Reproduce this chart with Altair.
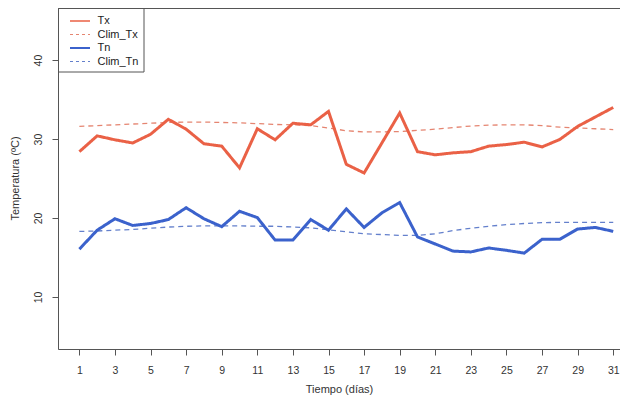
import altair as alt
import pandas as pd

days = list(range(1, 32))
tx = [28.4, 30.4, 29.9, 29.5, 30.6, 32.5, 31.25, 29.4, 29.1, 26.35, 31.3, 29.9, 32.0, 31.8, 33.5, 26.8,
      25.7, 29.5, 33.3, 28.4, 28.0, 28.25, 28.4, 29.1, 29.3, 29.6, 29.0, 29.95, 31.6, 32.8, 34.0]
clim_tx = [31.6, 31.7, 31.8, 31.9, 32.0, 32.1, 32.15, 32.15, 32.1, 32.05, 31.95, 31.85, 31.8, 31.7, 31.4, 31.05,
           30.9, 30.9, 30.95, 31.1, 31.25, 31.45, 31.65, 31.75, 31.8, 31.8, 31.7, 31.5, 31.4, 31.3, 31.2]
tn = [16.05, 18.45, 19.9, 19.05, 19.3, 19.8, 21.3, 19.9, 18.9, 20.85, 20.05, 17.2, 17.2, 19.8, 18.45, 21.15,
      18.8, 20.65, 21.95, 17.6, 16.7, 15.8, 15.7, 16.2, 15.9, 15.55, 17.3, 17.3, 18.6, 18.8, 18.3]
clim_tn = [18.3, 18.35, 18.45, 18.55, 18.7, 18.85, 18.95, 19.0, 19.0, 19.0, 18.95, 18.95, 18.85, 18.75, 18.5, 18.25,
           18.0, 17.9, 17.8, 17.8, 18.0, 18.4, 18.7, 18.95, 19.15, 19.3, 19.4, 19.45, 19.45, 19.45, 19.45]

series = ["Tx", "Clim_Tx", "Tn", "Clim_Tn"]
colors = ["#EA6146", "#E58571", "#3B62CC", "#6480CC"]
dashes = [[1, 0], [5, 4], [1, 0], [5, 4]]
widths = [3, 1.3, 3, 1.3]
legend_widths = [1.6, 1.2, 2.2, 1.2]
x_ticks = list(range(1, 32, 2))
y_ticks = [10, 20, 30, 40]

FONT = "Liberation Sans"
W, H = 562, 341

values = tx + clim_tx + tn + clim_tn
df = pd.DataFrame({
    "day": days * 4,
    "value": values,
    "series": [s for s in series for _ in days],
})

x_enc = alt.X("day:Q",
              scale=alt.Scale(domain=[-0.2, 31.38], nice=False, zero=False),
              axis=alt.Axis(values=x_ticks, title="Tiempo (días)", grid=False,
                            domainColor="#555", tickColor="#555", tickSize=6, tickWidth=1,
                            labelFont=FONT, labelFontSize=10.5, labelColor="#333",
                            labelPadding=10, labelFlush=False,
                            titleFont=FONT, titleFontSize=11, titleFontWeight="normal", titleColor="#333",
                            titleY=40, titleBaseline="middle"))
y_enc = alt.Y("value:Q",
              scale=alt.Scale(domain=[3.4, 46.6], nice=False, zero=False),
              axis=alt.Axis(values=y_ticks, title="Temperatura (ºC)", grid=False,
                            domainColor="#555", tickColor="#555", tickSize=6, tickWidth=1,
                            labelFont=FONT, labelFontSize=10.5, labelColor="#333",
                            labelAngle=270, labelAlign="center", labelBaseline="middle",
                            labelPadding=14,
                            titleFont=FONT, titleFontSize=11, titleFontWeight="normal", titleColor="#333",
                            titleAngle=270, titleAlign="center", titleBaseline="middle",
                            titleX=-43, titleY=170))

line_layers = []
for i in [1, 3, 0, 2]:
    s = series[i]
    line_layers.append(
        alt.Chart(df).transform_filter(alt.datum.series == s).mark_line(
            clip=True, color=colors[i], strokeDash=dashes[i], strokeWidth=widths[i]
        ).encode(x=x_enc, y=y_enc)
    )

top_border = alt.Chart(pd.DataFrame({"a": [0]})).mark_rule(color="#555", strokeWidth=1).encode(
    x=alt.value(0), x2=alt.value(W), y=alt.value(0.5)
)

# legend box
legend_box = alt.Chart(pd.DataFrame({"a": [0]})).mark_rect(
    fill="white", stroke="#555", strokeWidth=1
).encode(x=alt.value(0.5), x2=alt.value(86), y=alt.value(0.5), y2=alt.value(64))

legend_layers = []
for i, s in enumerate(series):
    ypos = 13 + i * 13.5
    sd = pd.DataFrame({"series": [s]})
    legend_layers.append(
        alt.Chart(sd).mark_rule(color=colors[i], strokeDash=dashes[i] if i % 2 == 0 else [3, 3],
                                strokeWidth=legend_widths[i]).encode(
            x=alt.value(12), x2=alt.value(32), y=alt.value(ypos))
    )
    legend_layers.append(
        alt.Chart(sd).mark_text(font=FONT, fontSize=11, color="#222", align="left",
                                baseline="middle").encode(
            x=alt.value(39.5), y=alt.value(ypos), text="series:N")
    )

chart = alt.layer(*line_layers, top_border, legend_box, *legend_layers).properties(
    width=W, height=H,
    padding={"left": 50, "top": 0, "right": 0, "bottom": 46},
    autosize=alt.AutoSizeParams(type="none"),
).configure_view(stroke=None).configure(background="white")

chart.save("out.html", embed_options={"renderer": "svg", "actions": False})
